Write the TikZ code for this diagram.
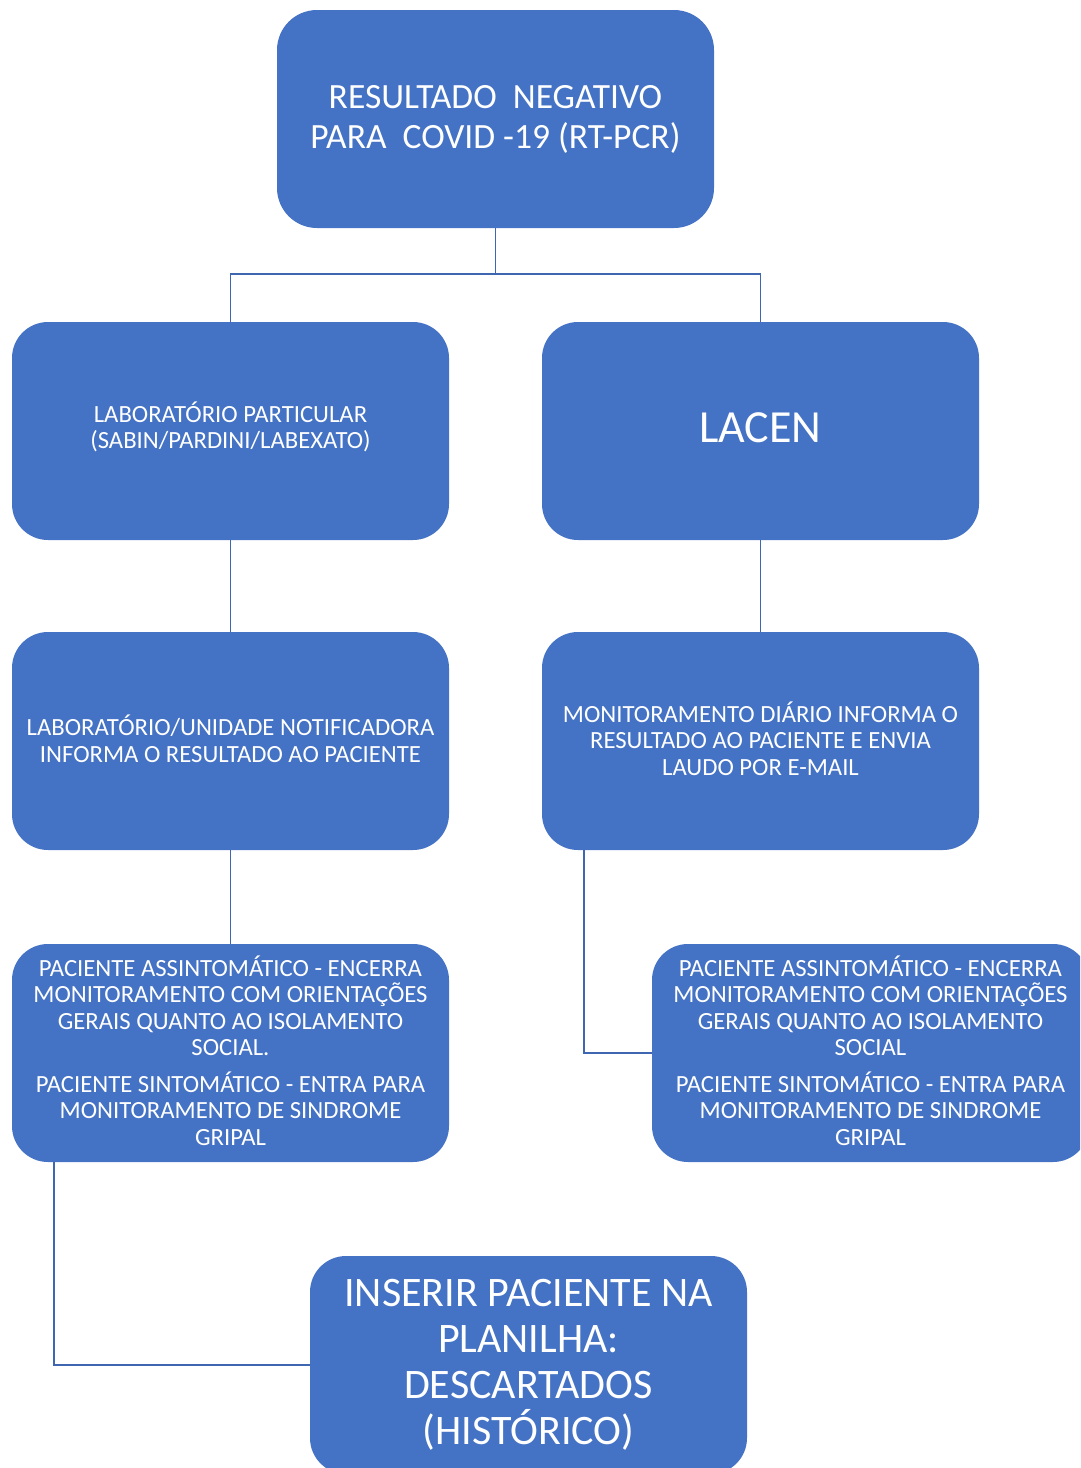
\documentclass[tikz,border=0pt]{standalone}
\usepackage{fontspec}
\setmainfont{Carlito}
\definecolor{boxblue}{HTML}{4472C4}
\definecolor{linkblue}{HTML}{3F66B0}
\newcommand{\lift}[1]{\rule[-#1]{0pt}{0pt}}
\begin{document}
\begin{tikzpicture}[x=1pt,y=-1pt,
  box/.style={fill=boxblue, rounded corners=36pt, text=white, align=center,
    minimum width=437pt, minimum height=218pt, inner sep=0pt,
    font=\fontsize{24.7}{26.5}\selectfont},
  link/.style={draw=linkblue, line width=1.4pt}]
\useasboundingbox (0,0) rectangle (1080,1468);
\clip (0,0) rectangle (1080,1468);
\node[box, rounded corners=40pt, font=\fontsize{35.5}{40}\selectfont] (top) at (495.5,119)
  {RESULTADO\ \ NEGATIVO\\PARA\ \ COVID -19 (RT-PCR)};
\node[box] (lab) at (230.5,431) {LABORATÓRIO PARTICULAR\\(SABIN/PARDINI/LABEXATO)\lift{12pt}};
\node[box, font=\fontsize{46}{50}\selectfont] (lacen) at (760.5,431) {LACEN\lift{6pt}};
\node[box] (notif) at (230.5,741) {LABORATÓRIO/UNIDADE NOTIFICADORA\\INFORMA O RESULTADO AO PACIENTE\lift{5pt}};
\node[box] (mon) at (760.5,741) {MONITORAMENTO DIÁRIO INFORMA O\\RESULTADO AO PACIENTE E ENVIA\\LAUDO POR E-MAIL\lift{5pt}};
\node[box] (pacl) at (230.5,1053) {PACIENTE ASSINTOMÁTICO - ENCERRA\\MONITORAMENTO COM ORIENTAÇÕES\\GERAIS QUANTO AO ISOLAMENTO\\SOCIAL.\\[10pt]PACIENTE SINTOMÁTICO - ENTRA PARA\\MONITORAMENTO DE SINDROME\\GRIPAL\lift{5pt}};
\node[box] (pacr) at (870.5,1053) {PACIENTE ASSINTOMÁTICO - ENCERRA\\MONITORAMENTO COM ORIENTAÇÕES\\GERAIS QUANTO AO ISOLAMENTO\\SOCIAL\\[10pt]PACIENTE SINTOMÁTICO - ENTRA PARA\\MONITORAMENTO DE SINDROME\\GRIPAL\lift{5pt}};
\node[box, font=\fontsize{42}{46}\selectfont] (ins) at (528.5,1365) {INSERIR PACIENTE NA\\PLANILHA:\\DESCARTADOS\\(HISTÓRICO)};
\coordinate (j) at (495.5,274);
\draw[link] (top.south) -- (j);
\draw[link] (lab.north) |- (j) -| (lacen.north);
\draw[link] (lab.south) -- (notif.north);
\draw[link] (lacen.south) -- (mon.north);
\draw[link] (notif.south) -- (pacl.north);
\draw[link] ([xshift=42pt]mon.south west) |- (pacr.west);
\draw[link] ([xshift=42pt]pacl.south west) |- (ins.west);
\end{tikzpicture}
\end{document}
